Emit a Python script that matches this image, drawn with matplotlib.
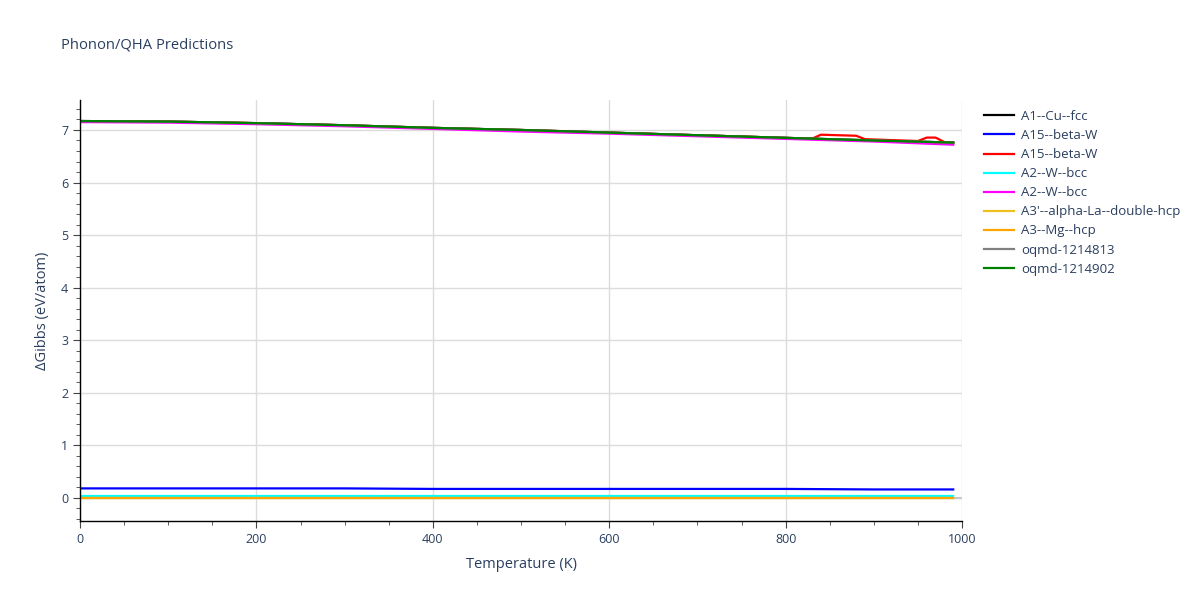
import matplotlib
matplotlib.use("Agg")
import matplotlib.pyplot as plt
from matplotlib.ticker import MultipleLocator

plt.rcParams['font.family'] = ['Open Sans', 'DejaVu Sans']

# temperatures (K) for the smooth curves
temps = [0, 100, 200, 300, 400, 500, 600, 700, 800, 900, 990]
green_vals = [7.17, 7.16, 7.13, 7.09, 7.04, 7.00, 6.95, 6.90, 6.85, 6.80, 6.76]
magenta_vals = [7.15, 7.14, 7.11, 7.07, 7.02, 6.97, 6.93, 6.88, 6.83, 6.78, 6.72]
blue_vals = [0.18, 0.18, 0.18, 0.18, 0.17, 0.17, 0.17, 0.17, 0.17, 0.16, 0.16]
cyan_vals = [0.04, 0.04, 0.04, 0.04, 0.04, 0.04, 0.04, 0.04, 0.04, 0.04, 0.04]
zero_vals = [0.0, 0.0, 0.0, 0.0, 0.0, 0.0, 0.0, 0.0, 0.0, 0.0, 0.0]

# red series has two spikes
red_temps = [0, 100, 200, 300, 400, 500, 600, 700, 800, 830, 840, 880, 890,
             950, 960, 970, 980, 990]
red_vals = [7.17, 7.16, 7.13, 7.09, 7.04, 7.00, 6.95, 6.90, 6.85, 6.835, 6.91,
            6.89, 6.825, 6.79, 6.855, 6.855, 6.77, 6.76]

series = [
    ("A1--Cu--fcc", "black", temps, green_vals),
    ("A15--beta-W", "blue", temps, blue_vals),
    ("A15--beta-W", "red", red_temps, red_vals),
    ("A2--W--bcc", "cyan", temps, cyan_vals),
    ("A2--W--bcc", "magenta", temps, magenta_vals),
    ("A3'--alpha-La--double-hcp", "#f0c020", temps, zero_vals),
    ("A3--Mg--hcp", "orange", temps, zero_vals),
    ("oqmd-1214813", "gray", temps, green_vals),
    ("oqmd-1214902", "green", temps, green_vals),
]

fig = plt.figure(figsize=(12, 6), dpi=100)
ax = fig.add_axes([0.0667, 0.1317, 0.735, 0.7016])

txt = "#2a3f5f"
ax.axhline(0, color="#c8c8c8", lw=1.5, zorder=1)
for name, col, x, y in series:
    ax.plot(x, y, color=col, lw=1.6, label=name, zorder=2)

ax.set_xlim(0, 1000)
ax.set_ylim(-0.44, 7.57)
ax.xaxis.set_major_locator(MultipleLocator(200))
ax.xaxis.set_minor_locator(MultipleLocator(50))
ax.yaxis.set_major_locator(MultipleLocator(1))
ax.yaxis.set_minor_locator(MultipleLocator(0.2))
ax.grid(True, which="major", color="#dcdcdc", lw=1)
ax.set_axisbelow(True)
for s in ["top", "right"]:
    ax.spines[s].set_visible(False)
for s in ["left", "bottom"]:
    ax.spines[s].set_color("black")
    ax.spines[s].set_linewidth(1)
ax.tick_params(which="major", length=5, color="#444444", labelcolor=txt, labelsize=9)
ax.tick_params(which="minor", length=3, color="#444444")

ax.set_xlabel("Temperature (K)", color=txt, fontsize=10.5, labelpad=8)
ax.set_ylabel("ΔGibbs (eV/atom)", color=txt, fontsize=10.5, labelpad=8)
fig.text(0.051, 0.925, "Phonon/QHA Predictions", color=txt, fontsize=10.6,
         ha="left", va="center")

leg = ax.legend(loc="upper left", bbox_to_anchor=(1.016, 0.995), frameon=False,
                fontsize=9.5, handlelength=2.3, handletextpad=0.5,
                labelspacing=0.46, borderaxespad=0.2)
for t in leg.get_texts():
    t.set_color(txt)

fig.savefig("out.png", dpi=100)
